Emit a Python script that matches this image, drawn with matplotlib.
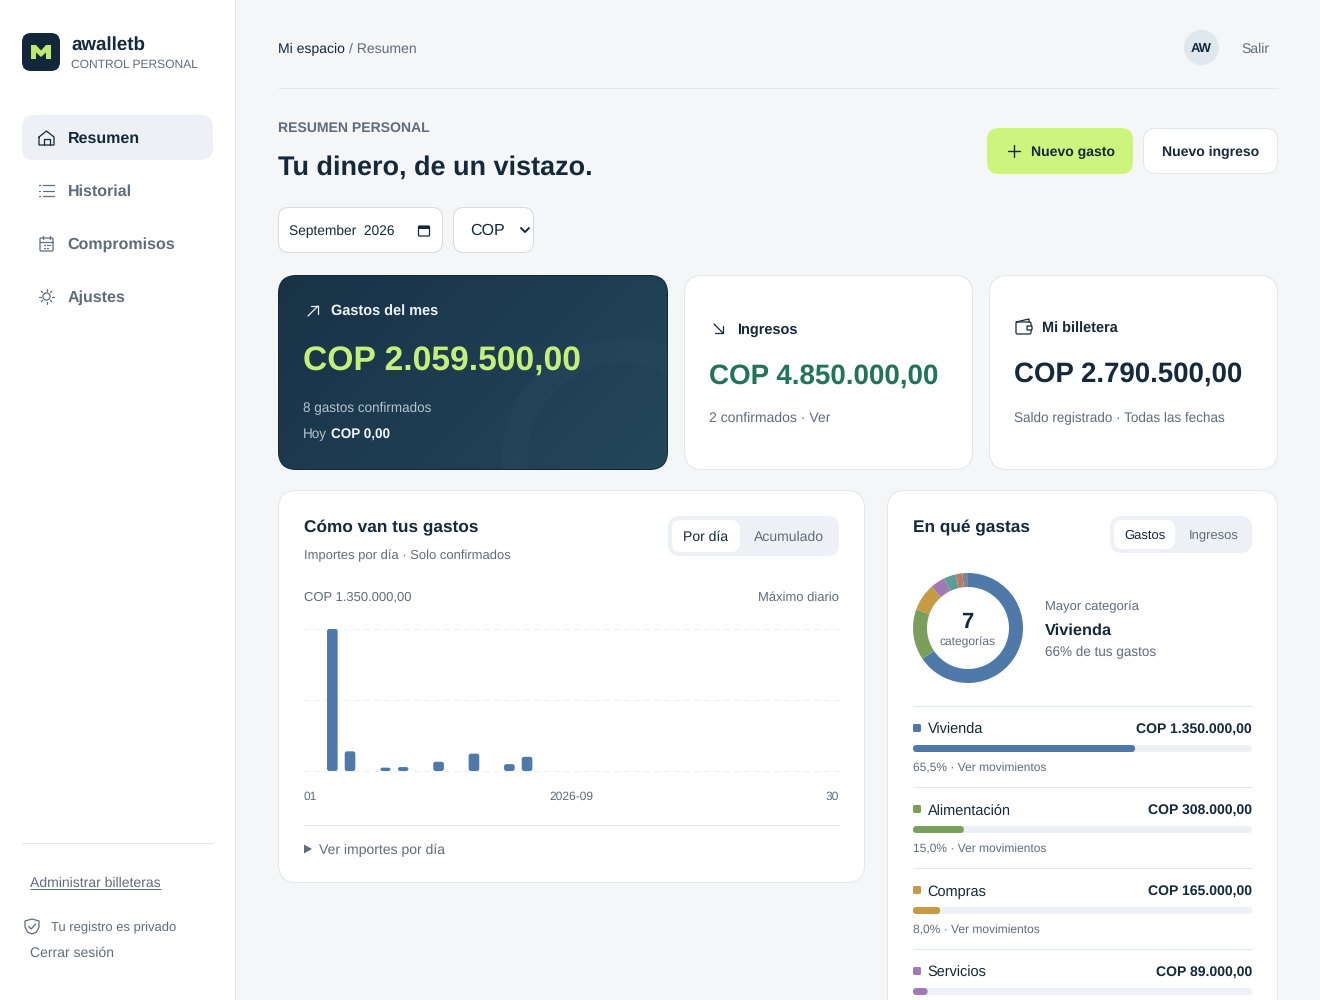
import matplotlib
matplotlib.use("Agg")
import matplotlib.pyplot as plt
import numpy as np
from matplotlib.patches import FancyBboxPatch, Circle, Wedge, Polygon, Rectangle

plt.rcParams['font.family'] = ['Liberation Sans', 'DejaVu Sans']
plt.rcParams['text.hinting'] = 'no_hinting'

# datos
dias = [2, 3, 5, 6, 8, 10, 12, 13]
importes = [1350000, 187000, 32000, 37500, 88000, 165000, 65000, 135000]
escala_max = 1350000

cat_nombres = ['Vivienda', 'Alimentación', 'Compras', 'Servicios', 'Transporte', 'Salud', 'Otros']
cat_valores = [1350000, 308000, 165000, 89000, 72000, 42000, 33500]
cat_colores = ['#4f79a9', '#7a9f5b', '#c79a45', '#a27ab3', '#5f9c98', '#bd7a6c', '#7b8696']
cat_montos = ['COP 1.350.000,00', 'COP 308.000,00', 'COP 165.000,00', 'COP 89.000,00']
cat_pct = [65.5, 15.0, 8.0, 4.3]
cat_notas = ['65,5% · Ver movimientos', '15,0% · Ver movimientos', '8,0% · Ver movimientos']

menu = ['Resumen', 'Historial', 'Compromisos', 'Ajustes']

OSCURO = '#14293b'
GRIS = '#5f6c7b'
BORDE = '#e2e7ec'
CLARO = '#edf1f5'
AZUL = '#4f79a9'

fig = plt.figure(figsize=(13.2, 10), dpi=100, facecolor='#f4f6f8')
ax = fig.add_axes([0, 0, 1, 1])
ax.set_xlim(0, 1320)
ax.set_ylim(1000, 0)
ax.axis('off')


def caja(x0, y0, x1, y1, r, fc='white', ec='none', lw=0.72, z=1):
    # con borde el trazo cae por dentro de la caja, como en css
    d = 0.5 if ec != 'none' and lw == 0.72 else 0
    p = FancyBboxPatch((x0 + d, y0 + d), x1 - x0 - 2 * d, y1 - y0 - 2 * d,
                       boxstyle=f"round,pad=0,rounding_size={r}", fc=fc, ec=ec, lw=lw, zorder=z)
    ax.add_patch(p)
    return p


def txt(x, y, s, px=14, color=GRIS, bold=False, ha='left', z=5):
    return ax.text(x, y, s, fontsize=px * 0.72, color=color, ha=ha, va='baseline',
                   fontweight='bold' if bold else 'normal', zorder=z)


def linea(xs, ys, color=GRIS, lw=0.9, z=5):
    ax.plot(xs, ys, color=color, lw=lw, solid_capstyle='round', solid_joinstyle='round', zorder=z)


def filete(x0, x1, y):
    ax.plot([x0, x1], [y, y], color=BORDE, lw=0.72, solid_capstyle='butt', zorder=5)


# barra lateral
ax.add_patch(Rectangle((0, 0), 235, 1000, fc='white', zorder=1))
ax.plot([234.5, 234.5], [0, 1000], color=BORDE, lw=0.72, zorder=5)
caja(22, 33, 60, 71, 9, fc='#12283a', z=2)
ax.add_patch(Polygon([(31, 59), (31, 45), (36, 45), (41, 50.5), (46, 45), (51, 45), (51, 59), (46, 59),
                      (46, 52.5), (41, 57), (36, 52.5), (36, 59)], fc='#bfe873', zorder=3))
txt(71, 50, 'awalletb', 18.8, OSCURO, True)
txt(71, 68, 'CONTROL PERSONAL', 12, GRIS)

caja(22, 115, 213, 160, 12, fc=CLARO, z=2)
for i, nombre in enumerate(menu):
    txt(67.7, 143 + i * 53, nombre, 16, OSCURO if i == 0 else GRIS, True)

# iconos del menu
linea([39, 46.5, 54, 54, 39, 39], [137, 131, 137, 145, 145, 137], OSCURO)
linea([43.5, 43.5, 49.5, 49.5], [145, 139, 139, 145], OSCURO)
for yy in [185, 190.5, 196]:
    linea([43, 54], [yy, yy], GRIS)
    linea([39, 39.6], [yy, yy], GRIS)
caja(40, 238, 53, 251, 1, fc='none', ec=GRIS, lw=0.9, z=5)
linea([40, 53], [242, 242], GRIS)
linea([43, 43], [236, 239], GRIS)
linea([50, 50], [236, 239], GRIS)
for xx, yy in [(44, 245), (47, 245), (44, 248), (49, 245), (47, 248)]:
    linea([xx, xx + 0.8], [yy, yy], GRIS)
ax.add_patch(Circle((46.5, 296.5), 3.6, fc='none', ec=GRIS, lw=0.9, zorder=5))
for a in np.deg2rad(np.arange(0, 360, 45)):
    linea([46.5 + 5.6 * np.cos(a), 46.5 + 7.5 * np.cos(a)], [296.5 + 5.6 * np.sin(a), 296.5 + 7.5 * np.sin(a)], GRIS)

filete(22, 213, 842.5)
txt(30, 887, 'Administrar billeteras', 14, GRIS)
ax.plot([30, 161], [889, 889], color=GRIS, lw=0.72, solid_capstyle='butt', zorder=5)
ax.add_patch(Polygon([(32, 919), (39, 921), (39, 927), (36.5, 932), (32, 934), (27.5, 932), (25, 927), (25, 921)],
                     fc='none', ec=GRIS, lw=0.9, zorder=5))
linea([28.8, 31.2, 35.5], [926.5, 929, 924], GRIS)
txt(51, 931, 'Tu registro es privado', 13, GRIS)
txt(30, 957, 'Cerrar sesión', 14, GRIS)

# cabecera
txt(278, 53, 'Mi espacio', 14, OSCURO)
txt(349, 53, '/ Resumen', 14, GRIS)
ax.add_patch(Circle((1201.5, 47.5), 17.5, fc='#dfe8ef', zorder=2))
txt(1201.5, 52, 'AW', 13, OSCURO, True, 'center')
txt(1241.5, 53, 'Salir', 14, GRIS)
filete(278, 1278, 87.5)

txt(278, 132, 'RESUMEN PERSONAL', 14, GRIS, True)
txt(278, 175, 'Tu dinero, de un vistazo.', 27, OSCURO, True)

caja(987, 128, 1133, 174, 12, fc='#cdf57e', z=2)
linea([1008, 1020], [151, 151], OSCURO, 1)
linea([1014, 1014], [145, 157], OSCURO, 1)
txt(1031, 156, 'Nuevo gasto', 14, OSCURO, True)
caja(1143, 128, 1278, 174, 12, fc='white', ec=BORDE, z=2)
txt(1210.5, 156, 'Nuevo ingreso', 14, OSCURO, True, 'center')

caja(278, 207, 443, 253, 10, fc='white', ec='#d5dbe1', z=2)
txt(289, 235, 'September  2026', 13.8, OSCURO)
caja(418.5, 226, 429.5, 236, 1, fc='none', ec=OSCURO, lw=0.9, z=5)
ax.add_patch(Rectangle((418.5, 226), 11, 3, fc=OSCURO, zorder=5))
caja(453, 207, 534, 253, 10, fc='white', ec='#d5dbe1', z=2)
txt(469.7, 235, 'COP', 16, OSCURO)
linea([521, 525, 529], [228, 232, 228], OSCURO, 1.4)

# tarjeta oscura con degradado
tarjeta = caja(278, 275, 668, 470, 18, fc='none', ec='#12283a', z=3)
gx, gy = np.meshgrid(np.linspace(0, 1, 200), np.linspace(0, 1, 100))
mezcla = (gx * 390 + gy * 195) / 585
c0 = np.array([0x19, 0x32, 0x46]) / 255
c1 = np.array([0x24, 0x47, 0x5c]) / 255
img = c0[None, None, :] * (1 - mezcla[..., None]) + c1[None, None, :] * mezcla[..., None]
im = ax.imshow(img, extent=(278, 668, 470, 275), aspect='auto', zorder=2, interpolation='bilinear')
im.set_clip_path(tarjeta)
ax.set_xlim(0, 1320)
ax.set_ylim(1000, 0)
aro = Wedge((622, 458), 120, 0, 360, width=25, fc='white', alpha=0.02, ec='none', zorder=3)
ax.add_patch(aro)
aro.set_clip_path(tarjeta)

linea([308, 318], [316, 306], '#eef3f6')
linea([310.5, 318, 318], [306, 306, 313.5], '#eef3f6')
txt(331, 315.6, 'Gastos del mes', 14.5, '#eef3f6', True)
txt(303, 371, 'COP 2.059.500,00', 33.6, '#c4f07a', True)
txt(303, 412, '8 gastos confirmados', 13.5, '#b4c3cf')
txt(303, 438, 'Hoy', 13.5, '#b4c3cf')
txt(331, 438, 'COP 0,00', 13.5, '#f2f5f7', True)

caja(684, 275, 973, 470, 18, fc='white', ec=BORDE, z=2)
linea([714, 723], [324, 333], OSCURO)
linea([723, 723, 715], [326, 333, 333], OSCURO)
txt(736.6, 334, 'Ingresos', 14.5, OSCURO, True)
txt(709, 384, 'COP 4.850.000,00', 27.7, '#1f7555', True)
txt(709, 422, '2 confirmados · Ver', 14, GRIS)

caja(989, 275, 1278, 470, 18, fc='white', ec=BORDE, z=2)
caja(1016, 322, 1031, 334, 1.5, fc='none', ec=OSCURO, lw=0.9, z=5)
linea([1016, 1029, 1029], [322, 319, 322], OSCURO)
caja(1027, 326, 1032, 330, 0.5, fc='white', ec=OSCURO, lw=0.9, z=5)
txt(1042, 332.6, 'Mi billetera', 14.5, OSCURO, True)
txt(1014, 382, 'COP 2.790.500,00', 27.6, OSCURO, True)
txt(1014, 422, 'Saldo registrado · Todas las fechas', 13.5, GRIS)

# tarjeta del grafico de barras
caja(278, 490, 865, 883, 18, fc='white', ec=BORDE, z=2)
txt(304, 532, 'Cómo van tus gastos', 17.3, OSCURO, True)
txt(304, 559, 'Importes por día · Solo confirmados', 13, GRIS)
caja(668, 516, 839, 556, 12, fc=CLARO, z=3)
caja(672, 520, 740, 552, 9, fc='white', z=4)
txt(706, 541, 'Por día', 14, OSCURO, ha='center')
txt(789, 541, 'Acumulado', 14, GRIS, ha='center')
txt(304, 600.6, 'COP 1.350.000,00', 13, GRIS)
txt(839, 600.6, 'Máximo diario', 13, GRIS, ha='right')
txt(304, 800, '01', 12, GRIS)
txt(571.5, 800, '2026-09', 12, GRIS, ha='center')
txt(839, 800, '30', 12, GRIS, ha='right')
filete(304, 839, 824.5)
ax.add_patch(Polygon([(304, 844.5), (312, 849), (304, 853.5)], fc=GRIS, zorder=5))
txt(319, 854, 'Ver importes por día', 14, GRIS)

ax_bar = fig.add_axes([304 / 1320, 229 / 1000, 535 / 1320, 142 / 1000])
ax_bar.patch.set_alpha(0)
ax_bar.set_xlim(0.4, 30.62)
ax_bar.set_ylim(0, escala_max)
ax_bar.set_yticks([0, escala_max / 2, escala_max])
ax_bar.set_xticks([])
ax_bar.tick_params(length=0, labelleft=False)
ax_bar.grid(axis='y', color='#e9edf0', lw=0.72, ls=(0, (5, 5)))
ax_bar.set_axisbelow(True)
for g in ax_bar.get_ygridlines():
    g.set_clip_on(False)
for s in ax_bar.spines.values():
    s.set_visible(False)
barras = ax_bar.bar(dias, importes, width=0.6, color=AZUL)
# esquinas redondeadas: se cambia cada barra por una caja con la misma geometria
aspecto = (escala_max / 142) / (30.22 / 535)
for b in list(barras):
    ax_bar.add_patch(FancyBboxPatch((b.get_x(), 0), b.get_width(), b.get_height(),
                                    boxstyle="round,pad=0,rounding_size=0.13", mutation_aspect=aspecto,
                                    fc=AZUL, ec='none', zorder=3, clip_on=False))
    b.remove()

# tarjeta de categorias
caja(887, 490, 1278, 1060, 18, fc='white', ec=BORDE, z=2)
txt(913, 532, 'En qué gastas', 17.3, OSCURO, True)
caja(1110, 516, 1252, 553, 12, fc=CLARO, z=3)
caja(1114, 520, 1175, 549, 9, fc='white', z=4)
txt(1144.5, 539, 'Gastos', 13, OSCURO, ha='center')
txt(1213.5, 539, 'Ingresos', 13, GRIS, ha='center')

ax_pie = fig.add_axes([913 / 1320, (1000 - 683) / 1000, 110 / 1320, 110 / 1000])
ax_pie.pie(cat_valores, colors=cat_colores, startangle=90, counterclock=False, radius=1,
           wedgeprops={'width': 14 / 55, 'linewidth': 0})
ax_pie.set_xlim(-1, 1)
ax_pie.set_ylim(-1, 1)

txt(967.5, 628, '7', 22, OSCURO, True, 'center')
txt(967.5, 645.4, 'categorías', 12, GRIS, ha='center')
txt(1045, 610, 'Mayor categoría', 13, GRIS)
txt(1045, 635, 'Vivienda', 16.4, OSCURO, True)
txt(1045, 656, '66% de tus gastos', 13.5, GRIS)

for i in range(4):
    y0 = 706 + i * 81
    filete(913, 1252, y0 - 0.5)
    caja(913, y0 + 18, 921, y0 + 26, 1.5, fc=cat_colores[i], z=4)
    txt(927.7, y0 + 27.4, cat_nombres[i], 14.5, OSCURO)
    txt(1252, y0 + 27, cat_montos[i], 14, OSCURO, True, 'right')
    caja(913, y0 + 39, 1252, y0 + 46, 3.5, fc=CLARO, z=3)
    caja(913, y0 + 39, 913 + 339 * cat_pct[i] / 100, y0 + 46, 3.5, fc=cat_colores[i], z=4)
    if i < len(cat_notas):
        txt(913, y0 + 65, cat_notas[i], 12, GRIS)

fig.savefig('out.png', dpi=100, facecolor=fig.get_facecolor())
